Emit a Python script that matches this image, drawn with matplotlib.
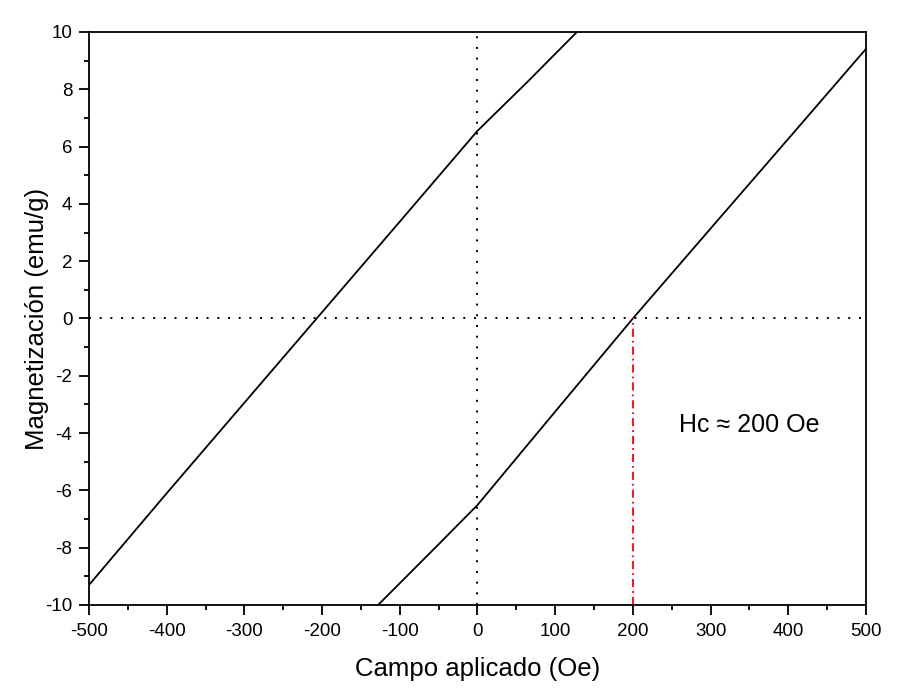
import matplotlib
matplotlib.use("Agg")
import matplotlib.pyplot as plt
from matplotlib.ticker import MultipleLocator

plt.rcParams["font.family"] = ["Liberation Sans", "DejaVu Sans"]
plt.rcParams["axes.unicode_minus"] = False

# descending branch (upper curve)
upper_field = [-500, -400, -300, -207, -100, 0, 64, 128]
upper_mag = [-9.3, -6.1, -2.94, 0.0, 3.38, 6.55, 8.25, 10.0]

# ascending branch (lower curve)
lower_field = [-128, -100, -50, 0, 50, 100, 200, 300, 400, 500]
lower_mag = [-10.0, -9.24, -7.88, -6.51, -4.88, -3.25, 0.0, 3.14, 6.27, 9.41]

coercive_field = 200
hc_label = "Hc \u2248 200 Oe"

fig = plt.figure(figsize=(9, 6.95), dpi=100)
ax = fig.add_axes([0.0989, 0.1295, 0.8633, 0.8245])

ax.plot(upper_field, upper_mag, color="black", lw=1.3)
ax.plot(lower_field, lower_mag, color="black", lw=1.3)

ax.axhline(0, color="black", lw=1.4, linestyle=(0, (1, 4.5)))
ax.axvline(0, color="black", lw=1.4, linestyle=(0, (1, 4.5)))
ax.plot([coercive_field, coercive_field], [-10, 0], color="red", lw=1.3,
        linestyle=(0, (4.5, 2.2, 1, 2.2)))

ax.text(350, -3.72, hc_label, fontsize=18, ha="center", va="center")

ax.set_xlim(-500, 500)
ax.set_ylim(-10, 10)
ax.xaxis.set_major_locator(MultipleLocator(100))
ax.xaxis.set_minor_locator(MultipleLocator(50))
ax.yaxis.set_major_locator(MultipleLocator(2))
ax.yaxis.set_minor_locator(MultipleLocator(1))
ax.tick_params(which="major", direction="out", length=7, width=1.3,
               labelsize=13.5, pad=5)
ax.tick_params(axis="x", which="major", pad=6)
ax.tick_params(which="minor", direction="out", length=3.5, width=1.3)
for sp in ax.spines.values():
    sp.set_linewidth(1.3)

ax.set_xlabel("Campo aplicado (Oe)", fontsize=18.5)
ax.set_ylabel("Magnetización (emu/g)", fontsize=18.5)
ax.xaxis.set_label_coords(0.5, -0.091)
ax.yaxis.set_label_coords(-0.051, 0.5)

fig.savefig("out.png", dpi=100)
